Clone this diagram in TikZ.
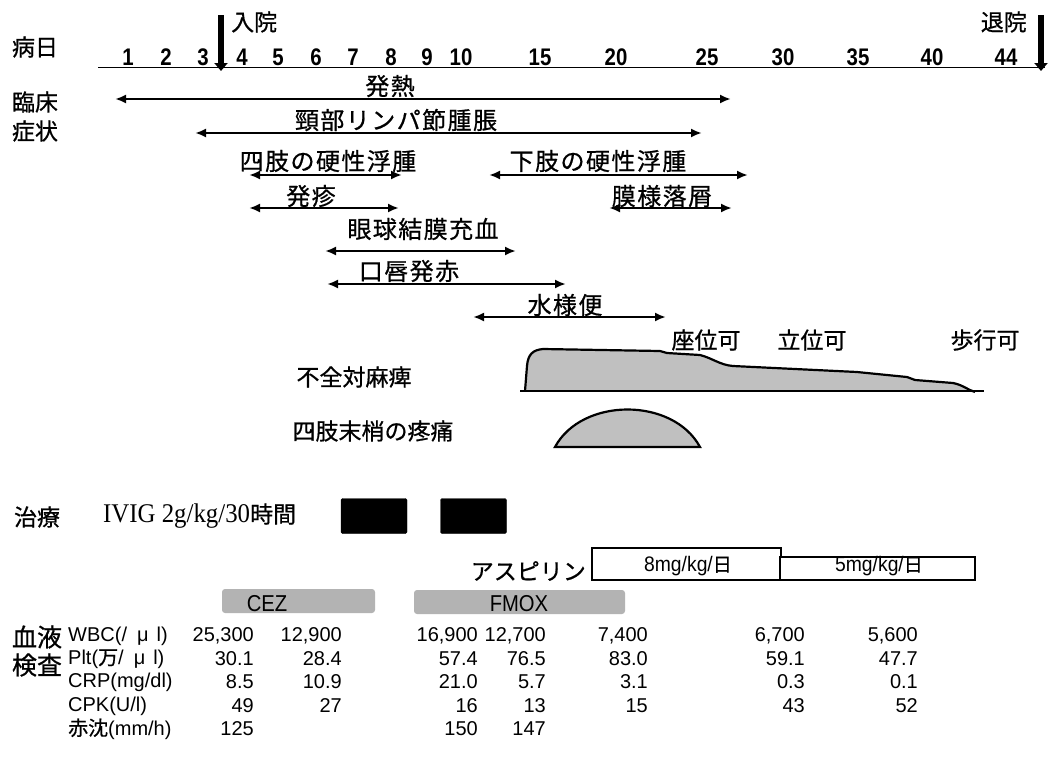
\documentclass[tikz,border=0pt]{standalone}
\usepackage{fontspec}
\usetikzlibrary{arrows.meta}
\setmainfont{Liberation Sans}
\newfontfamily\jp[FakeBold=0.7]{Noto Sans CJK JP}
\newfontfamily\jpw[LetterSpace=6,FakeBold=0.7]{Noto Sans CJK JP}
\newfontfamily\axisfont[FakeStretch=0.85]{Liberation Sans}
\newfontfamily\condsans[FakeStretch=0.88]{Liberation Sans}
\newfontfamily\midsans[FakeStretch=0.92]{Liberation Sans}
\newfontfamily\condserif[FakeStretch=0.92]{Liberation Serif}
\definecolor{shapegray}{HTML}{C0C0C0}
\definecolor{bargray}{HTML}{B3B3B3}
\begin{document}
\begin{tikzpicture}[x=1pt,y=-1pt,
  side/.style={font=\jp\fontsize{23}{26}\selectfont, inner sep=0pt},
  sym/.style={font=\jpw\fontsize{24}{26}\selectfont, inner sep=0pt},
  axnum/.style={font=\axisfont\bfseries\fontsize{24}{26}\selectfont, inner sep=0pt},
  sarrow/.style={{Latex[length=11pt,width=9pt]}-{Latex[length=11pt,width=9pt]}, line width=2.6pt},
  bigarrow/.style={line width=6.5pt, -{Triangle[length=8pt,width=13pt]}},
  num/.style={font=\fontsize{20}{22}\selectfont, anchor=east, inner sep=0pt},
  rowlab/.style={font=\fontsize{20}{22}\selectfont, anchor=west, inner sep=0pt},
  ivig/.style={fill=black, draw=black, rounded corners=1.5pt, minimum width=66pt, minimum height=35pt, inner sep=0pt},
  aspbox/.style={draw=black, fill=white, inner sep=0pt},
  asptext/.style={font=\midsans\fontsize{21}{23}\selectfont, inner sep=0pt},
  abx/.style={fill=bargray, rounded corners=3pt, inner sep=0pt, minimum height=24pt},
  abxtext/.style={font=\condsans\fontsize{23}{25}\selectfont, inner sep=0pt}
]
\useasboundingbox (0,0) rectangle (1050,756);

% ---- axis ----
\node[side] (byobi) at (35,47) {病日};
\coordinate (axL) at (98,67);
\coordinate (axR) at (1045,67);
\draw[line width=1pt] (axL) -- (axR);
\foreach \n/\x in {1/128,2/166,3/203,4/242,5/278,6/316,7/353,8/391,9/427,10/461,15/540,20/616,25/707,30/783,35/858,40/932,44/1006}
  \node[axnum] (d\n) at (\x,57) {\n};

\coordinate (admT) at (221,15);
\coordinate (admB) at (221,71);
\draw[bigarrow] (admT) -- (admB);
\node[side, anchor=west] (adm) at (231,22) {入院};
\coordinate (disT) at (1041,15);
\coordinate (disB) at (1041,71);
\draw[bigarrow] (disT) -- (disB);
\node[side, anchor=east] (dis) at (1027,22) {退院};

% ---- clinical symptoms ----
\node[side] (rin) at (35,102) {臨床};
\node[side] (sho) at (35,131) {症状};

\coordinate (a1s) at (115,99);  \coordinate (a1e) at (731,99);
\draw[sarrow] (a1s) -- (a1e);
\node[sym] (t1) at (390,86) {発熱};

\coordinate (a2s) at (195,133); \coordinate (a2e) at (702,133);
\draw[sarrow] (a2s) -- (a2e);
\node[sym] (t2) at (396,120) {頸部リンパ節腫脹};

\coordinate (a3s) at (249,175); \coordinate (a3e) at (402,175);
\draw[sarrow] (a3s) -- (a3e);
\node[sym] (t3) at (328,161) {四肢の硬性浮腫};

\coordinate (a4s) at (489,175); \coordinate (a4e) at (748,175);
\draw[sarrow] (a4s) -- (a4e);
\node[sym] (t4) at (598,161) {下肢の硬性浮腫};

\coordinate (a5s) at (249,208); \coordinate (a5e) at (399,208);
\draw[sarrow] (a5s) -- (a5e);
\node[sym] (t5) at (311,196) {発疹};

\coordinate (a6s) at (609,208); \coordinate (a6e) at (732,208);
\draw[sarrow] (a6s) -- (a6e);
\node[sym] (t6) at (662,196) {膜様落屑};

\coordinate (a7s) at (325,251); \coordinate (a7e) at (516,251);
\draw[sarrow] (a7s) -- (a7e);
\node[sym] (t7) at (423,229) {眼球結膜充血};

\coordinate (a8s) at (327,284); \coordinate (a8e) at (566,284);
\draw[sarrow] (a8s) -- (a8e);
\node[sym] (t8) at (409,271) {口唇発赤};

\coordinate (a9s) at (473,317); \coordinate (a9e) at (666,317);
\draw[sarrow] (a9s) -- (a9e);
\node[sym] (t9) at (565,305) {水様便};

% ---- paralysis ----
\node[side] (zai) at (706,340) {座位可};
\node[side] (rit) at (812,340) {立位可};
\node[side] (hok) at (985,340) {歩行可};
\node[side] (fuz) at (354,377) {不全対麻痺};
\fill[shapegray] (525,391) -- (527,366) .. controls (528,354) and (533,350) .. (543,349) -- (660,351) -- (667,353) -- (700,355) .. controls (712,358) and (720,365) .. (733,366) -- (857,372) -- (907,377) -- (915,380) -- (953,383) .. controls (963,385) and (968,390) .. (975,392) -- cycle;
\draw[line width=2.2pt, line join=round] (525,391) -- (527,366) .. controls (528,354) and (533,350) .. (543,349) -- (660,351) -- (667,353) -- (700,355) .. controls (712,358) and (720,365) .. (733,366) -- (857,372) -- (907,377) -- (915,380) -- (953,383) .. controls (963,385) and (968,390) .. (975,392);
\coordinate (pbL) at (520,391); \coordinate (pbR) at (984,391);
\draw[line width=2.2pt] (pbL) -- (pbR);

\node[side] (pain) at (373,431) {四肢末梢の疼痛};
\filldraw[fill=shapegray, line width=2.2pt] (555,447) .. controls (582,397) and (673,397) .. (700,447) -- cycle;

% ---- treatment ----
\node[side] (chi) at (37,517) {治療};
\node[inner sep=0pt, anchor=west] (ivigt) at (103,516) {{\condserif\fontsize{27}{30}\selectfont IVIG 2g/kg/30}{\jp\fontsize{23}{26}\selectfont 時間}};
\node[ivig] (iv1) at (374,516) {};
\node[ivig] (iv2) at (473.5,516) {};

\node[font=\jp\fontsize{23}{26}\selectfont, inner sep=0pt, anchor=east] (asp) at (586,571) {アスピリン};
\node[aspbox, line width=2.4pt, minimum width=189pt, minimum height=32pt] (asp1) at (686.5,564) {};
\node[asptext] (asp1t) at (688,566) {8mg/kg/{\jp\fontsize{19}{21}\selectfont 日}};
\node[aspbox, line width=2pt, minimum width=195pt, minimum height=23pt] (asp2) at (877.5,568.5) {};
\node[asptext] (asp2t) at (879,566) {5mg/kg/{\jp\fontsize{19}{21}\selectfont 日}};

\node[abx, minimum width=153pt] (cez) at (298.5,601) {};
\node[abxtext] (cezt) at (267,604) {CEZ};
\node[abx, minimum width=211pt] (fmox) at (519.5,602) {};
\node[abxtext] (fmoxt) at (519,604) {FMOX};

% ---- blood tests ----
\node[font=\jp\fontsize{25}{28}\selectfont, inner sep=0pt] (ket1) at (37,637) {血液};
\node[font=\jp\fontsize{25}{28}\selectfont, inner sep=0pt] (ket2) at (37,665) {検査};

\node[rowlab] (r1) at (68,636) {WBC(/\hspace{10pt}μ\hspace{8pt}l)};
\node[rowlab] (r2) at (68,659) {Plt({\jp 万}/\hspace{10pt}μ\hspace{8pt}l)};
\node[rowlab] (r3) at (68,682) {CRP(mg/dl)};
\node[rowlab] (r4) at (68,706) {CPK(U/l)};
\node[rowlab] (r5) at (68,729) {{\jp 赤沈}(mm/h)};

\foreach \x/\v [count=\i] in {254/{25,300},342/{12,900},478/{16,900},546/{12,700},648/{7,400},805/{6,700},918/{5,600}}
  \node[num] (w\i) at (\x,636) {\v};
\foreach \x/\v [count=\i] in {254/30.1,342/28.4,478/57.4,546/76.5,648/83.0,805/59.1,918/47.7}
  \node[num] (p\i) at (\x,659) {\v};
\foreach \x/\v [count=\i] in {254/8.5,342/10.9,478/21.0,546/5.7,648/3.1,805/0.3,918/0.1}
  \node[num] (c\i) at (\x,682) {\v};
\foreach \x/\v [count=\i] in {254/49,342/27,478/16,546/13,648/15,805/43,918/52}
  \node[num] (k\i) at (\x,706) {\v};
\foreach \x/\v [count=\i] in {254/125,478/150,546/147}
  \node[num] (e\i) at (\x,729) {\v};
\end{tikzpicture}
\end{document}
